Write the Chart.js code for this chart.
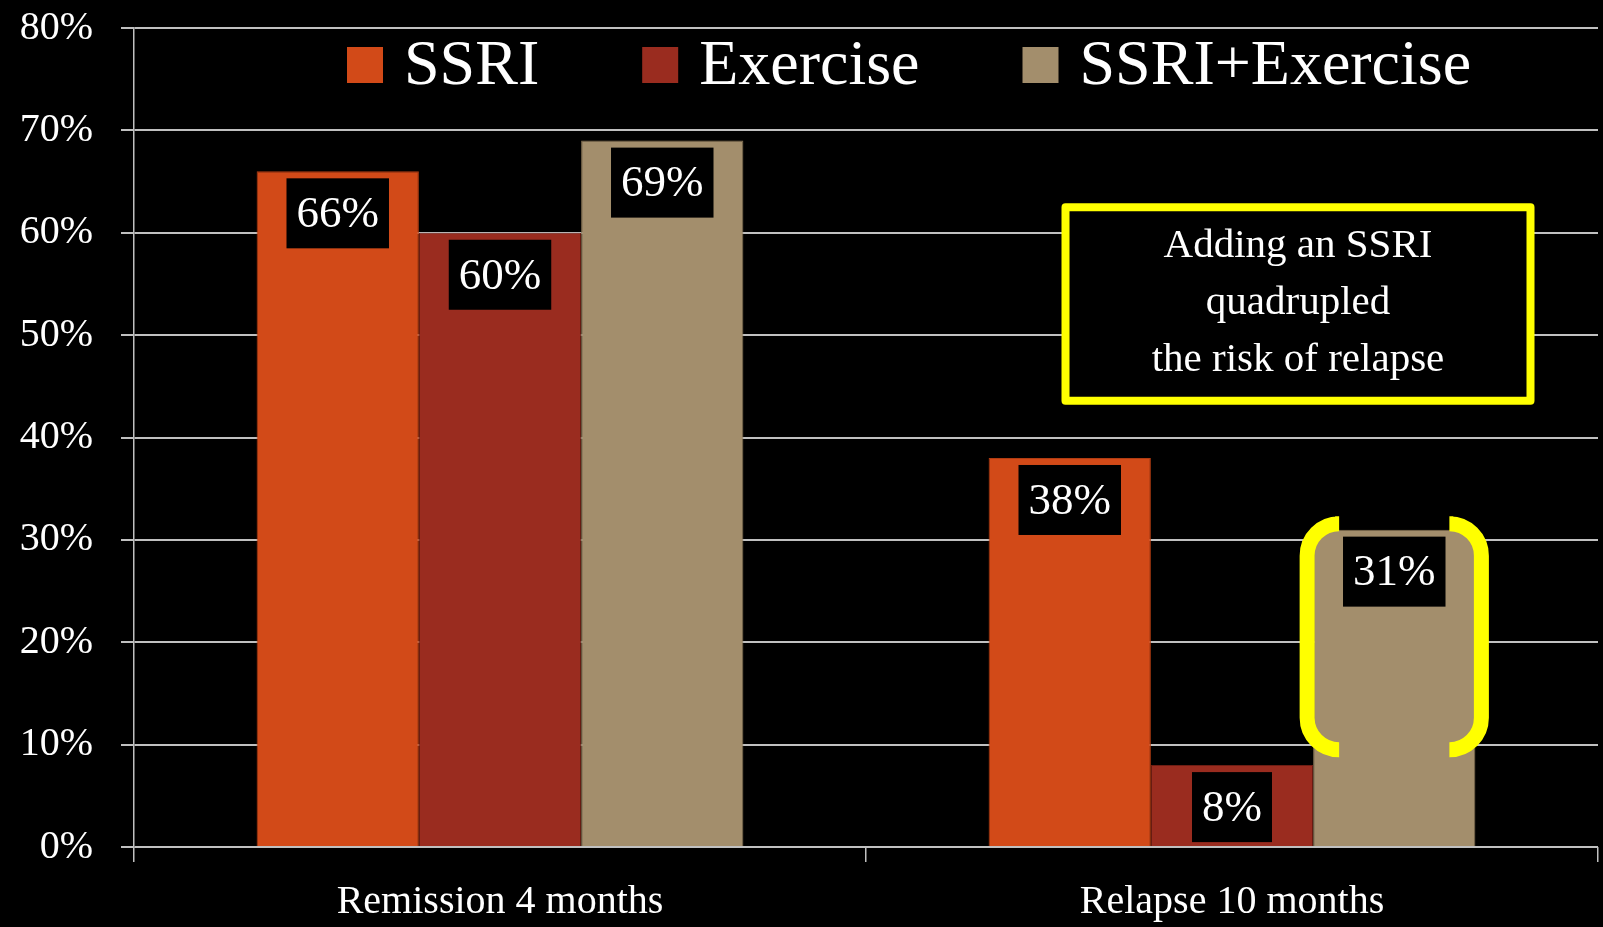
<!DOCTYPE html>
<html lang="en">
<head>
<meta charset="UTF-8">
<title>SSRI vs Exercise</title>
<style>
  html, body { margin: 0; padding: 0; background: #000; }
  #wrap { width: 1603px; height: 927px; }
</style>
<script src="https://cdn.jsdelivr.net/npm/chart.js"></script>
</head>
<body>
<div id="wrap"><canvas id="chart" width="1603" height="927"></canvas></div>
<script>
// data
const categories = ['Remission 4 months', 'Relapse 10 months'];
const seriesNames = ['SSRI', 'Exercise', 'SSRI+Exercise'];
const ssriValues = [66, 38];
const exerciseValues = [60, 8];
const comboValues = [69, 31];
const seriesColors = ['#D24A18', '#9A2C1F', '#A38E6C'];
const seriesBorders = ['#B03C12', '#6E1E14', '#857252'];
const yMax = 80;
const yStep = 10;
const noteLines = ['Adding an SSRI', 'quadrupled', 'the risk of relapse'];

const SERIF = "'Liberation Serif', 'DejaVu Serif', serif";
const GRID = '#c0c0c0';

// black boxes with the value, just under the top of each bar
const valueBoxes = {
    id: 'valueBoxes',
    afterDatasetsDraw(chart) {
        const ctx = chart.ctx;
        ctx.save();
        ctx.font = '45px ' + SERIF;
        ctx.textAlign = 'center';
        ctx.textBaseline = 'middle';
        chart.data.datasets.forEach((ds, i) => {
            chart.getDatasetMeta(i).data.forEach((bar, j) => {
                const txt = ds.data[j] + '%';
                const w = ctx.measureText(txt).width + 20;
                const h = 70;
                const top = bar.y + 7;
                ctx.fillStyle = '#000';
                ctx.fillRect(bar.x - w / 2, top, w, h);
                ctx.fillStyle = '#fff';
                ctx.fillText(txt, bar.x, top + h / 2 + 2);
            });
        });
        ctx.restore();
    }
};

// yellow "( )" around the SSRI+Exercise relapse bar
const bracket = {
    id: 'bracket',
    afterDatasetsDraw(chart) {
        const bar = chart.getDatasetMeta(2).data[1];
        const ctx = chart.ctx;
        const half = bar.width / 2 + 6;
        const gap = bar.width / 2 - 22;
        const top = bar.y - 6;
        const bottom = chart.scales.y.getPixelForValue(9.5);
        const r = 32;
        ctx.save();
        ctx.strokeStyle = '#ffff00';
        ctx.lineWidth = 15;
        ctx.lineCap = 'butt';
        ctx.beginPath();
        ctx.moveTo(bar.x - gap, top);
        ctx.arcTo(bar.x - half, top, bar.x - half, bottom, r);
        ctx.arcTo(bar.x - half, bottom, bar.x - gap, bottom, r);
        ctx.lineTo(bar.x - gap, bottom);
        ctx.stroke();
        ctx.beginPath();
        ctx.moveTo(bar.x + gap, top);
        ctx.arcTo(bar.x + half, top, bar.x + half, bottom, r);
        ctx.arcTo(bar.x + half, bottom, bar.x + gap, bottom, r);
        ctx.lineTo(bar.x + gap, bottom);
        ctx.stroke();
        ctx.restore();
    }
};

// note box with yellow frame
const noteBox = {
    id: 'noteBox',
    afterDraw(chart) {
        const ctx = chart.ctx;
        const xs = chart.scales.x, ys = chart.scales.y;
        const cx = xs.getPixelForValue(1) + 66;
        const w = 465;
        const top = ys.getPixelForValue(62.5);
        const bottom = ys.getPixelForValue(43.6);
        ctx.save();
        ctx.fillStyle = '#000';
        ctx.strokeStyle = '#ffff00';
        ctx.lineWidth = 8;
        ctx.lineJoin = 'round';
        ctx.fillRect(cx - w / 2, top, w, bottom - top);
        ctx.strokeRect(cx - w / 2, top, w, bottom - top);
        ctx.fillStyle = '#fff';
        ctx.font = '41px ' + SERIF;
        ctx.textAlign = 'center';
        ctx.textBaseline = 'alphabetic';
        noteLines.forEach((line, i) => {
            ctx.fillText(line, cx, top + 50 + i * 57);
        });
        ctx.restore();
    }
};

// legend drawn inside the plot, along the top
const insideLegend = {
    id: 'insideLegend',
    afterDraw(chart) {
        const ctx = chart.ctx;
        const area = chart.chartArea;
        let x = area.left + 213;
        const cy = area.top + 37;
        const box = 36;
        ctx.save();
        ctx.font = '64px ' + SERIF;
        ctx.textBaseline = 'middle';
        ctx.textAlign = 'left';
        chart.data.datasets.forEach(ds => {
            ctx.fillStyle = ds.backgroundColor;
            ctx.fillRect(x, cy - box / 2, box, box);
            x += box + 21;
            ctx.fillStyle = '#fff';
            ctx.fillText(ds.label, x, cy + 2);
            x += ctx.measureText(ds.label).width + 103;
        });
        ctx.restore();
    }
};

new Chart(document.getElementById('chart'), {
    type: 'bar',
    data: {
        labels: categories,
        datasets: [
            { label: seriesNames[0], data: ssriValues, backgroundColor: seriesColors[0], borderColor: seriesBorders[0], borderWidth: 1 },
            { label: seriesNames[1], data: exerciseValues, backgroundColor: seriesColors[1], borderColor: seriesBorders[1], borderWidth: 1 },
            { label: seriesNames[2], data: comboValues, backgroundColor: seriesColors[2], borderColor: seriesBorders[2], borderWidth: 1 }
        ]
    },
    options: {
        responsive: false,
        animation: false,
        barPercentage: 1,
        categoryPercentage: 0.665,
        layout: { padding: { top: 28, right: 5, left: 0, bottom: 0 } },
        plugins: {
            legend: { display: false },
            tooltip: { enabled: false }
        },
        scales: {
            x: {
                grid: { drawOnChartArea: false, tickLength: 15, color: GRID, lineWidth: 1.5, offset: true },
                border: { display: false },
                ticks: { color: '#fff', font: { family: SERIF, size: 40 }, padding: 16 },
                afterFit(scale) { scale.height = 80; scale.paddingLeft = 0; scale.paddingRight = 0; }
            },
            y: {
                min: 0,
                max: yMax,
                grid: { color: GRID, lineWidth: 2, tickLength: 13 },
                border: { color: GRID, width: 1.5 },
                ticks: {
                    stepSize: yStep,
                    color: '#fff',
                    font: { family: SERIF, size: 40 },
                    padding: 28,
                    callback: v => v + '%'
                },
                afterFit(scale) { scale.width = 134; scale.paddingTop = 0; scale.paddingBottom = 0; }
            }
        }
    },
    plugins: [valueBoxes, bracket, noteBox, insideLegend]
});
</script>
</body>
</html>
